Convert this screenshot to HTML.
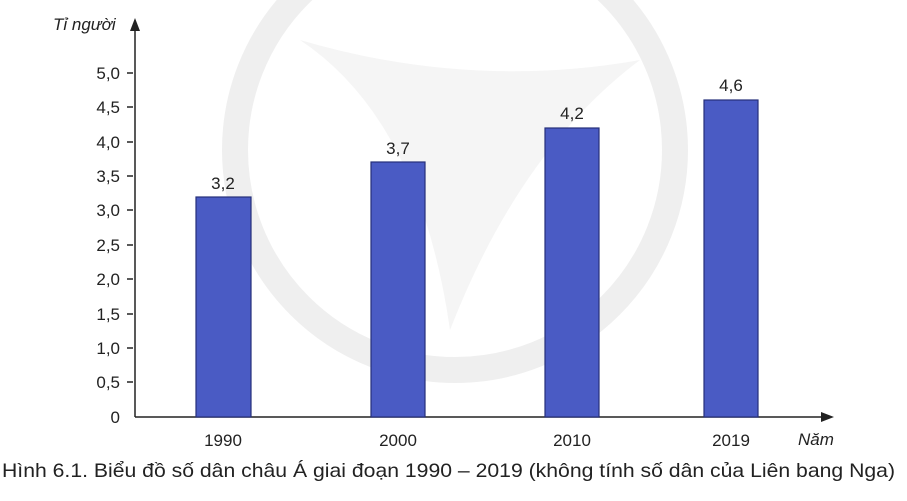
<!DOCTYPE html>
<html><head><meta charset="utf-8"><style>
html,body{margin:0;padding:0;background:#fff;}
svg{display:block;font-family:"Liberation Sans",sans-serif;}
</style></head><body>
<svg width="907" height="501" viewBox="0 0 907 501">
<rect width="907" height="501" fill="#fff"/>
<circle cx="455" cy="150" r="220" fill="none" stroke="#efefef" stroke-width="26"/>
<path d="M300 40 Q420 120 450 330 Q520 150 640 60 Q470 90 300 40 Z" fill="#f5f5f5"/>
<g fill="#222" font-size="17" text-anchor="end">
<text x="120" y="79">5,0</text>
<text x="120" y="113">4,5</text>
<text x="120" y="148">4,0</text>
<text x="120" y="182">3,5</text>
<text x="120" y="216">3,0</text>
<text x="120" y="251">2,5</text>
<text x="120" y="285">2,0</text>
<text x="120" y="320">1,5</text>
<text x="120" y="354">1,0</text>
<text x="120" y="388">0,5</text>
<text x="120" y="423">0</text>
</g>
<g stroke="#222" stroke-width="1.5">
<line x1="127" y1="73" x2="133" y2="73"/><line x1="127" y1="107" x2="133" y2="107"/>
<line x1="127" y1="142" x2="133" y2="142"/><line x1="127" y1="176" x2="133" y2="176"/>
<line x1="127" y1="210" x2="133" y2="210"/><line x1="127" y1="245" x2="133" y2="245"/>
<line x1="127" y1="279" x2="133" y2="279"/><line x1="127" y1="314" x2="133" y2="314"/>
<line x1="127" y1="348" x2="133" y2="348"/><line x1="127" y1="382" x2="133" y2="382"/>
<line x1="135" y1="417" x2="826" y2="417"/>
<line x1="135" y1="28" x2="135" y2="417"/>
</g>
<path d="M135 18 L130 31 L140 31 Z" fill="#222"/>
<path d="M834 417 L821 412 L821 422 Z" fill="#222"/>
<g fill="#4a5bc4" stroke="#26307a" stroke-width="1.2">
<rect x="196" y="197" width="55" height="220"/>
<rect x="371" y="162" width="54" height="255"/>
<rect x="545" y="128" width="54" height="289"/>
<rect x="704" y="100" width="54" height="317"/>
</g>
<g fill="#222" font-size="17" text-anchor="middle">
<text x="223" y="189">3,2</text>
<text x="398" y="154">3,7</text>
<text x="572" y="119">4,2</text>
<text x="731" y="91">4,6</text>
<text x="223" y="446">1990</text>
<text x="398" y="446">2000</text>
<text x="572" y="446">2010</text>
<text x="731" y="446">2019</text>
</g>
<text x="53" y="30" font-size="17" font-style="italic" fill="#222">Tỉ người</text>
<text x="798" y="445" font-size="17" font-style="italic" fill="#222">Năm</text>
<text x="2" y="477" font-size="19.5" fill="#222" textLength="893" lengthAdjust="spacingAndGlyphs">Hình 6.1. Biểu đồ số dân châu Á giai đoạn 1990 – 2019 (không tính số dân của Liên bang Nga)</text>
</svg>
</body></html>
